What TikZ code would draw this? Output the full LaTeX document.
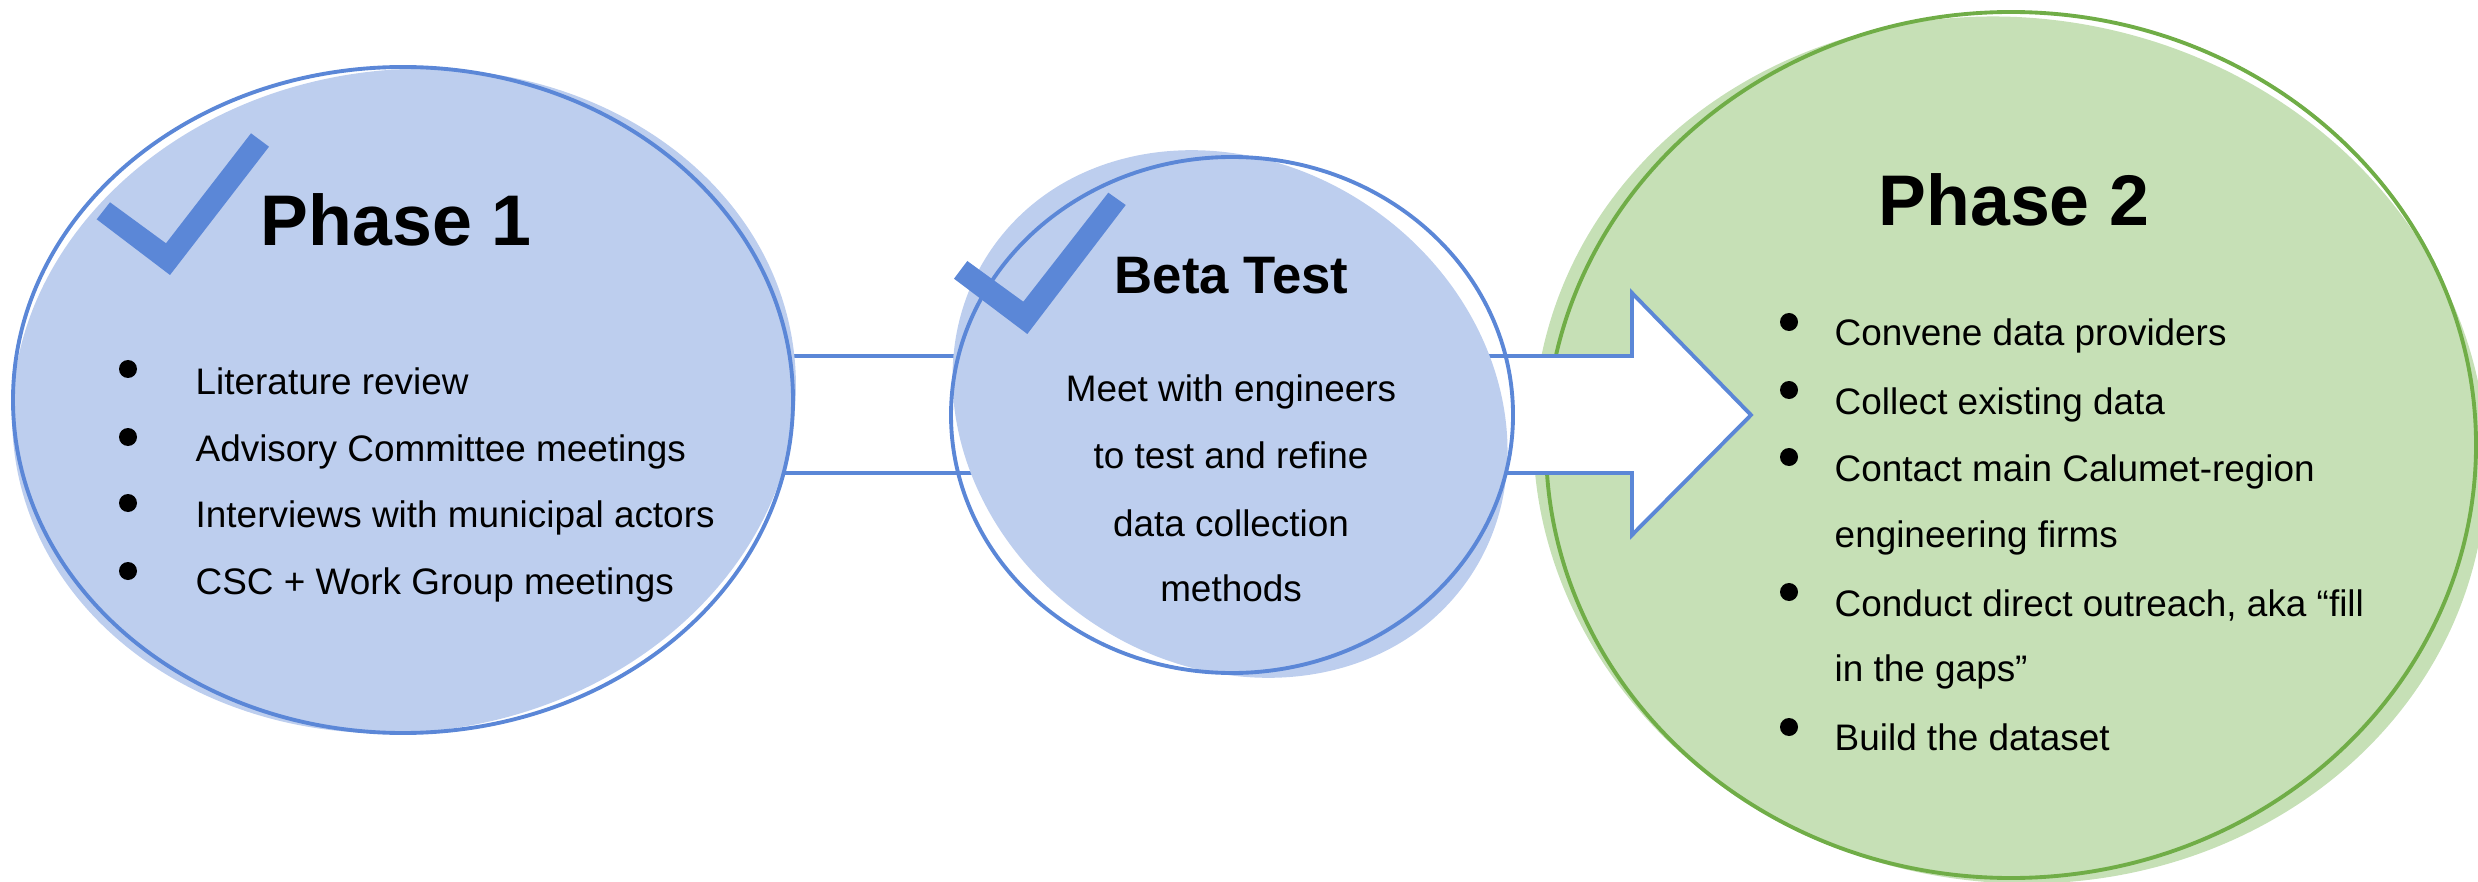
\documentclass[tikz,border=0pt]{standalone}
\usepackage{fontspec}
\setmainfont{Liberation Sans}
\usetikzlibrary{shapes.geometric}
\definecolor{bluefill}{HTML}{BDCEEE}
\definecolor{blueline}{HTML}{5B87D7}
\definecolor{greenfill}{HTML}{C6E0B6}
\definecolor{greenline}{HTML}{70AD47}

\begin{document}
\begin{tikzpicture}[scale=0.2,
    blob/.style={ellipse, draw, line width=1.1pt},
    blockarrow/.style={draw=blueline, fill=white, line width=1.1pt, line join=miter},
    bigtitle/.style={anchor=base west, font=\fontsize{20.4}{24}\selectfont\bfseries},
    midtitle/.style={anchor=base, font=\fontsize{15}{18}\selectfont\bfseries},
    item/.style={anchor=base west, font=\fontsize{10.5}{12}\selectfont},
    citem/.style={anchor=base, font=\fontsize{10.5}{12}\selectfont}]
            \tikzstyle{every node}+=[inner sep=0pt]
            \useasboundingbox (0,0) rectangle (123.9,-44.1);
            \fill [greenfill, rotate around={-10:(100.5,-22.5)}] (100.5,-22.5) ellipse (23.9 and 21.6);
            \node [blob, draw=greenline, minimum width=9.3cm, minimum height=8.66cm] (p2) at (100.55,-22.25) {};
            \coordinate (tip) at (87.55,-20.75);
            \draw [blockarrow] (36,-17.8) -- (81.6,-17.8) -- (81.6,-14.65) -- (tip) -- (81.6,-26.75) -- (81.6,-23.65) -- (36,-23.65) -- cycle;
            \fill [bluefill, rotate around={8:(20.2,-20.05)}] (20.2,-20.05) ellipse (19.65 and 16.55);
            \node [blob, draw=blueline, minimum width=7.8cm, minimum height=6.66cm] (p1) at (20.15,-20) {};
            \fill [bluefill, rotate around={-35:(61.5,-20.7)}] (61.5,-20.7) ellipse (14.5 and 12.5);
            \node [blob, draw=blueline, minimum width=5.62cm, minimum height=5.16cm] (beta) at (61.6,-20.75) {};
            \fill [blueline] (4.835,-10.965) -- (5.5,-10.115) -- (8.3,-12.165) -- (12.55,-6.665) -- (13.45,-7.335) -- (8.5,-13.75) -- cycle;
            \fill [blueline] (47.7,-13.935) -- (48.365,-13.05) -- (51.165,-15.085) -- (55.415,-9.635) -- (56.285,-10.25) -- (51.365,-16.7) -- cycle;
            \node [bigtitle] (p1title) at (13,-12.3) {Phase 1};
            \fill [black] (6.4,-18.45) circle (0.45);
            \fill [black] (6.4,-21.85) circle (0.45);
            \fill [black] (6.4,-25.15) circle (0.45);
            \fill [black] (6.4,-28.55) circle (0.45);
            \node [item] (p1a) at (9.75,-19.7) {Literature review};
            \node [item] (p1b) at (9.75,-23.05) {Advisory Committee meetings};
            \node [item] (p1c) at (9.75,-26.35) {Interviews with municipal actors};
            \node [item] (p1d) at (9.75,-29.7) {CSC + Work Group meetings};
            \node [midtitle] (betatitle) at (61.575,-14.7) {Beta Test};
            \node [citem] (betaa) at (61.55,-20.1) {Meet with engineers};
            \node [citem] (betab) at (61.55,-23.4) {to test and refine};
            \node [citem] (betac) at (61.55,-26.8) {data collection};
            \node [citem] (betad) at (61.55,-30.05) {methods};
            \node [bigtitle, anchor=base] (p2title) at (100.7,-11.3) {Phase 2};
            \fill [black] (89.45,-16.1) circle (0.45);
            \fill [black] (89.45,-19.5) circle (0.45);
            \fill [black] (89.45,-22.85) circle (0.45);
            \fill [black] (89.45,-29.6) circle (0.45);
            \fill [black] (89.45,-36.35) circle (0.45);
            \node [item] (p2a) at (91.7,-17.3) {Convene data providers};
            \node [item] (p2b) at (91.7,-20.75) {Collect existing data};
            \node [item] (p2c) at (91.7,-24.05) {Contact main Calumet-region};
            \node [item] (p2d) at (91.7,-27.35) {engineering firms};
            \node [item] (p2e) at (91.7,-30.8) {Conduct direct outreach, aka “fill};
            \node [item] (p2f) at (91.7,-34.05) {in the gaps”};
            \node [item] (p2g) at (91.7,-37.5) {Build the dataset};
            \end{tikzpicture}
\end{document}
